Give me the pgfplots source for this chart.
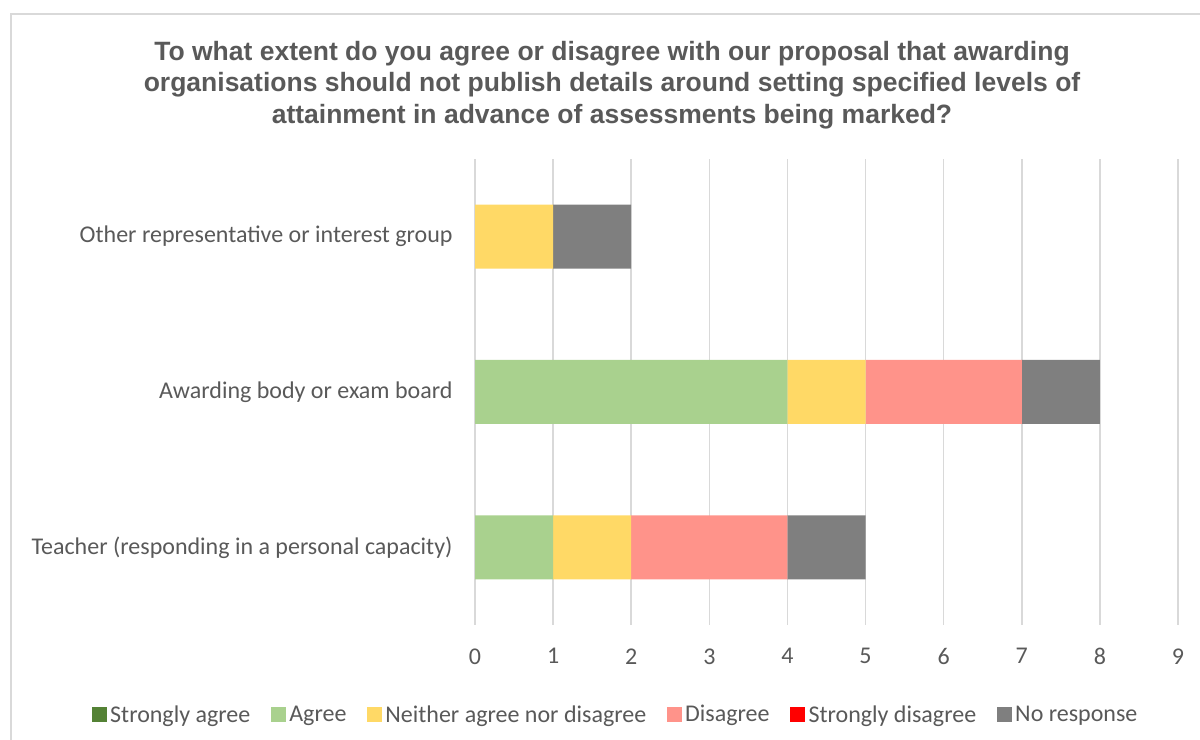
\documentclass[border=0pt]{standalone}
\usepackage{pgfplots}
\pgfplotsset{compat=1.18}
\usepackage{fontspec}
\setmainfont{Carlito}
\newfontfamily\titlefont{Liberation Sans}
\definecolor{txt}{HTML}{595959}
\definecolor{gridc}{HTML}{D9D9D9}
\definecolor{cSA}{HTML}{548235}
\definecolor{cA}{HTML}{A9D18E}
\definecolor{cN}{HTML}{FFD966}
\definecolor{cD}{HTML}{FF938A}
\definecolor{cSD}{HTML}{FF0000}
\definecolor{cNR}{HTML}{7F7F7F}
\begin{document}
\begin{tikzpicture}[x=1bp,y=1bp]
\useasboundingbox (0,0) rectangle (1200,740);
\draw[gridc, line width=2bp] (11,0) -- (11,725.5) -- (1200,725.5);
\node[text=txt, font=\titlefont\bfseries\fontsize{26.5bp}{31.5bp}\selectfont, align=center] at (612,655)
 {To what extent do you agree or disagree with our proposal that awarding\\organisations should not publish details around setting specified levels of\\attainment in advance of assessments being marked?};
\begin{axis}[
  at={(475bp,115bp)}, anchor=south west,
  scale only axis, width=703bp, height=466bp,
  xbar stacked, bar width=64bp,
  xmin=0, xmax=9, xtick={0,...,9},
  ymin=-0.5, ymax=2.5, ytick={0,1,2},
  yticklabels={Teacher (responding in a personal capacity),Awarding body or exam board,Other representative or interest group},
  axis line style={draw=none},
  major tick length=0pt,
  xmajorgrids, grid style={gridc, line width=1.5bp},
  tick label style={text=txt, font=\fontsize{24bp}{28bp}\selectfont},
  /pgf/number format/assume math mode=true,
  xticklabel style={yshift=-20bp},
  yticklabel style={xshift=-19bp},
  legend columns=6,
  legend style={draw=none, at={(0.201,-0.192)}, anchor=center, font=\fontsize{24bp}{28bp}\selectfont, text=txt,
    nodes={inner xsep=3.5bp},
    /tikz/every even column/.append style={column sep=17bp}},
  legend image code/.code={\fill[#1] (0bp,-7.5bp) rectangle (15bp,7.5bp);},
  clip=false,
]
\addplot[fill=cSA, draw=none] coordinates {(0,0) (0,1) (0,2)};
\addplot[fill=cA, draw=none] coordinates {(1,0) (4,1) (0,2)};
\addplot[fill=cN, draw=none] coordinates {(1,0) (1,1) (1,2)};
\addplot[fill=cD, draw=none] coordinates {(2,0) (2,1) (0,2)};
\addplot[fill=cSD, draw=none] coordinates {(0,0) (0,1) (0,2)};
\addplot[fill=cNR, draw=none] coordinates {(1,0) (1,1) (1,2)};
\legend{Strongly agree,Agree,Neither agree nor disagree,Disagree,Strongly disagree,No response}
\end{axis}
\end{tikzpicture}
\end{document}
